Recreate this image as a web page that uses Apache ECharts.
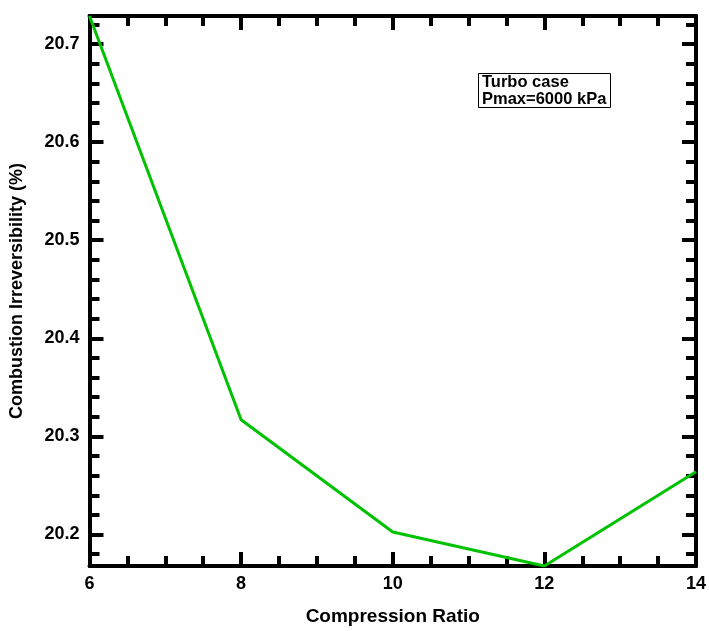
<!DOCTYPE html>
<html>
<head>
<meta charset="utf-8">
<title>Combustion Irreversibility vs Compression Ratio</title>
<script src="https://cdn.jsdelivr.net/npm/echarts@6/dist/echarts.min.js"></script>
<style>
  html, body { margin: 0; padding: 0; background: #ffffff; overflow: hidden; }
  #chart { width: 709px; height: 631px; }
</style>
</head>
<body>
<div id="chart"></div>
<script>
// Compression ratio values and the matching combustion irreversibility (%)
const compressionRatio = [6, 8, 10, 12, 14];
const irreversibility = [20.7286, 20.317, 20.2026, 20.1679, 20.264];

// Y axis range and tick positions
const yMin = 20.1679;
const yMax = 20.7286;
const yMajorTicks = [20.2, 20.3, 20.4, 20.5, 20.6, 20.7];
const yMinorTicks = [20.18, 20.22, 20.24, 20.26, 20.28, 20.32, 20.34, 20.36, 20.38,
  20.42, 20.44, 20.46, 20.48, 20.52, 20.54, 20.56, 20.58, 20.62, 20.64, 20.66, 20.68, 20.72];

// X axis range
const xMin = 6;
const xMax = 14;
const xStep = 2;

const annotation = 'Turbo case\nPmax=6000 kPa';
const xTitle = 'Compression Ratio';
const yTitle = 'Combustion Irreversibility (%)';

const FONT = "'Liberation Sans', Arial, Helvetica, sans-serif";
const frameLine = { show: true, onZero: false, lineStyle: { color: '#000', width: 4 } };

function xAxisDef(position, withLabels) {
  return {
    type: 'value', position: position, min: xMin, max: xMax, interval: xStep,
    axisLine: frameLine,
    axisTick: { show: true, inside: true, length: 14, lineStyle: { color: '#000', width: 4 } },
    minorTick: { show: true, splitNumber: 4, length: 10, lineStyle: { color: '#000', width: 4 } },
    axisLabel: {
      show: withLabels, margin: 9, color: '#000', fontFamily: FONT, fontWeight: 'bold', fontSize: 18
    },
    splitLine: { show: false },
    minorSplitLine: { show: false },
    name: withLabels ? xTitle : '',
    nameLocation: 'middle', nameGap: 41,
    nameTextStyle: { color: '#000', fontFamily: FONT, fontWeight: 'bold', fontSize: 19 }
  };
}

function yAxisDef(position, ticks, tickLen, withLabels) {
  return {
    type: 'value', position: position, min: yMin, max: yMax,
    axisLine: frameLine,
    axisTick: {
      show: true, inside: true, length: tickLen, customValues: ticks,
      lineStyle: { color: '#000', width: 4 }
    },
    axisLabel: withLabels ? {
      show: true, customValues: yMajorTicks, margin: 10, color: '#000',
      fontFamily: FONT, fontWeight: 'bold', fontSize: 18,
      formatter: v => v.toFixed(1)
    } : { show: false },
    splitLine: { show: false },
    name: withLabels ? yTitle : '',
    nameLocation: 'middle', nameGap: 63, nameRotate: 90,
    nameTextStyle: { color: '#000', fontFamily: FONT, fontWeight: 'bold', fontSize: 18 }
  };
}

const chart = echarts.init(document.getElementById('chart'), null, { renderer: 'canvas' });
chart.setOption({
  backgroundColor: '#ffffff',
  animation: false,
  title: {
    text: annotation,
    left: 478, top: 73,
    padding: [1, 4, 0, 4],
    borderColor: '#000', borderWidth: 1,
    textStyle: {
      color: '#000', fontFamily: FONT, fontWeight: 'bold', fontSize: 16.5, lineHeight: 17
    }
  },
  grid: { left: 89.5, right: 11.5, top: 16, bottom: 61, containLabel: false },
  xAxis: [xAxisDef('bottom', true), xAxisDef('top', false)],
  yAxis: [
    yAxisDef('left', yMajorTicks, 14, true),
    yAxisDef('left', yMinorTicks, 10, false),
    yAxisDef('right', yMajorTicks, 14, false),
    yAxisDef('right', yMinorTicks, 10, false)
  ],
  series: [{
    type: 'line',
    xAxisIndex: 0, yAxisIndex: 0,
    data: compressionRatio.map((x, i) => [x, irreversibility[i]]),
    showSymbol: false,
    lineStyle: { color: '#00c200', width: 3 },
    z: 1
  }]
});
</script>
</body>
</html>
